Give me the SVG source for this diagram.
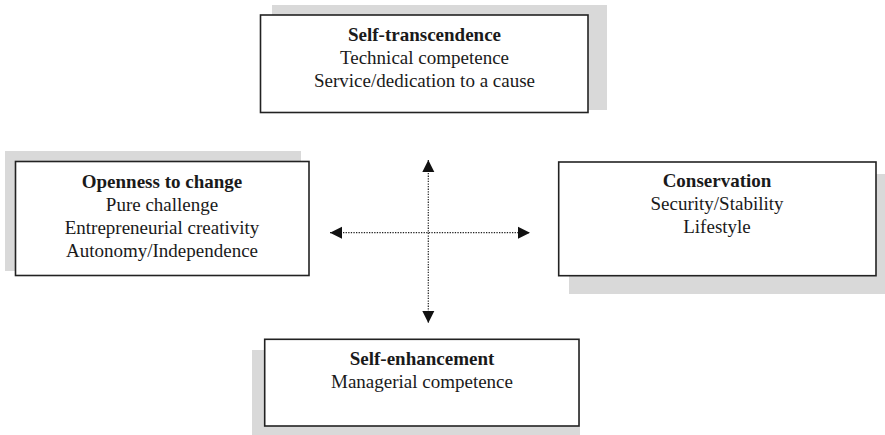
<svg xmlns="http://www.w3.org/2000/svg" width="885" height="435" viewBox="0 0 885 435">
<style>
.shadow{fill:#d9d9d9;stroke:none}
.box{fill:#fff;stroke:#222;stroke-width:1.6}
text{font-family:"Liberation Serif","Times New Roman",serif;font-size:19px;fill:#1a1a1a;text-anchor:middle}
.title{font-weight:bold}
.conn{stroke:#222;stroke-width:1.2;stroke-dasharray:1.3 1.3;fill:none}
</style>
<defs>
<marker id="arrow" markerUnits="userSpaceOnUse" markerWidth="13" markerHeight="13" refX="12" refY="6.5" orient="auto-start-reverse">
<path d="M0,0.5 L12,6.5 L0,12.5 Z" fill="#111"/>
</marker>
</defs>
<rect width="885" height="435" fill="#fff"/>
<g id="self-transcendence">
<rect class="shadow" x="272" y="5" width="335" height="105"/>
<rect class="box" x="260.5" y="15" width="327.5" height="97.5"/>
<text class="title" x="424.5" y="41">Self-transcendence</text>
<text x="424.5" y="64">Technical competence</text>
<text x="424.5" y="87">Service/dedication to a cause</text>
</g>
<g id="openness-to-change">
<rect class="shadow" x="5" y="151" width="296" height="120"/>
<rect class="box" x="15.5" y="161.5" width="293.5" height="114"/>
<text class="title" x="162" y="188">Openness to change</text>
<text x="162" y="211">Pure challenge</text>
<text x="162" y="234">Entrepreneurial creativity</text>
<text x="162" y="257">Autonomy/Independence</text>
</g>
<g id="conservation">
<rect class="shadow" x="569" y="174" width="316" height="120"/>
<rect class="box" x="558.7" y="162" width="317.3" height="113.7"/>
<text class="title" x="717" y="187">Conservation</text>
<text x="717" y="210">Security/Stability</text>
<text x="717" y="233">Lifestyle</text>
</g>
<g id="self-enhancement">
<rect class="shadow" x="252" y="350" width="328" height="85"/>
<rect class="box" x="264.7" y="339.3" width="314.3" height="86.7"/>
<text class="title" x="422" y="365">Self-enhancement</text>
<text x="422" y="388">Managerial competence</text>
</g>
<g id="connectors">
<line class="conn" x1="428.3" y1="160" x2="428.3" y2="323" marker-start="url(#arrow)" marker-end="url(#arrow)"/>
<line class="conn" x1="330" y1="232.7" x2="530" y2="232.7" marker-start="url(#arrow)" marker-end="url(#arrow)"/>
</g>
</svg>
